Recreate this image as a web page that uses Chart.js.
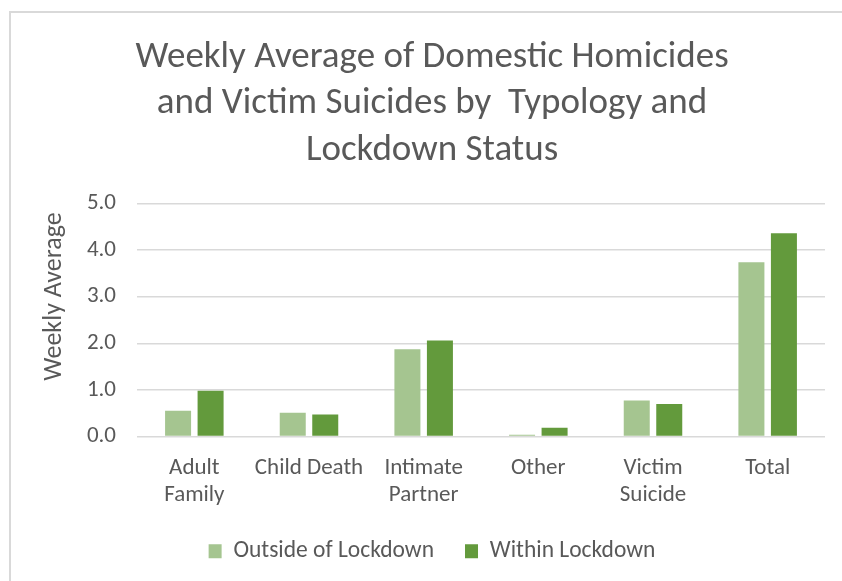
<!DOCTYPE html>
<html>
<head>
<meta charset="utf-8">
<script src="https://cdn.jsdelivr.net/npm/chart.js@4.4.1/dist/chart.umd.min.js"></script>
<style>
  html, body { margin: 0; padding: 0; background: #fff; overflow: hidden; }
  #wrap { position: relative; width: 842px; height: 581px; }
  #frame { position: absolute; left: 9px; top: 11px; width: 900px; height: 700px;
           border-left: 2px solid #d9d9d9; border-top: 2px solid #d9d9d9; }
  canvas { position: absolute; left: 0; top: 0; }
</style>
</head>
<body>
<div id="wrap">
  <div id="frame"></div>
  <canvas id="chart" width="842" height="581"></canvas>
</div>
<script>
// categories and values
const categories = [["Adult", "Family"], "Child Death", ["Intimate", "Partner"], "Other", ["Victim", "Suicide"], "Total"];
const outsideLockdown = [0.55, 0.51, 1.87, 0.04, 0.77, 3.74];
const withinLockdown = [0.98, 0.47, 2.06, 0.19, 0.70, 4.36];
const yTicks = [0, 1, 2, 3, 4, 5];

const FONT = "Carlito, Lato, 'Open Sans', sans-serif";
const TEXT = "#595959";

const ctx = document.getElementById("chart");
new Chart(ctx, {
  type: "bar",
  data: {
    labels: categories,
    datasets: [
      {
        label: "Outside of Lockdown",
        data: outsideLockdown,
        backgroundColor: "#a5c590",
        categoryPercentage: 0.567,
        barPercentage: 0.8,
      },
      {
        label: "Within Lockdown",
        data: withinLockdown,
        backgroundColor: "#639a3c",
        categoryPercentage: 0.567,
        barPercentage: 0.8,
      },
    ],
  },
  options: {
    responsive: false,
    animation: false,
    layout: { padding: { left: 39, right: 17, top: 0, bottom: 8 } },
    plugins: {
      title: {
        display: true,
        text: ["Weekly Average of Domestic Homicides", "and Victim Suicides by  Typology and", "Lockdown Status"],
        color: TEXT,
        font: { family: FONT, size: 37, weight: "normal", lineHeight: "46.5px" },
        padding: { top: 34, bottom: 30 },
      },
      legend: {
        position: "bottom",
        labels: {
          color: TEXT,
          font: { family: FONT, size: 23.5 },
          boxWidth: 13,
          boxHeight: 14,
          padding: 31,
        },
      },
      tooltip: { enabled: false },
    },
    scales: {
      x: {
        grid: { display: false },
        border: { display: false },
        ticks: {
          color: TEXT,
          font: { family: FONT, size: 23, lineHeight: "27px" },
          maxRotation: 0,
          autoSkip: false,
          padding: 10,
        },
        afterFit: (s) => { s.height = 72; },
      },
      y: {
        min: 0,
        max: 5,
        afterBuildTicks: (s) => { s.ticks = yTicks.map((v) => ({ value: v })); },
        grid: { color: "#d9d9d9", lineWidth: 1.5, drawTicks: false },
        border: { display: false },
        ticks: {
          color: TEXT,
          font: { family: FONT, size: 23 },
          padding: 21,
          callback: (v) => v.toFixed(1),
        },
        title: {
          display: true,
          // leading spaces nudge the label up, as in the original
          text: "        Weekly Average",
          color: TEXT,
          font: { family: FONT, size: 26 },
          padding: { top: 0, bottom: 0 },
        },
        afterFit: (s) => { s.width = 98; },
      },
    },
  },
});
</script>
</body>
</html>
